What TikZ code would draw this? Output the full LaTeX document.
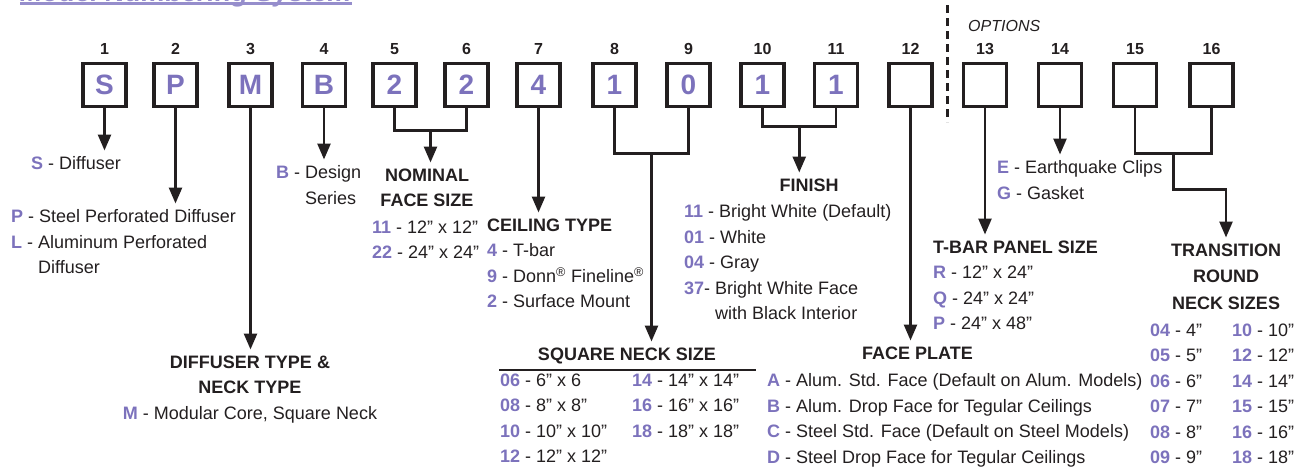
\documentclass[tikz,border=0pt]{standalone}
\usepackage{fontspec}
\setmainfont{Liberation Sans}
\usetikzlibrary{positioning, arrows.meta, calc}
\definecolor{CodePurple}{RGB}{124,114,188}
\definecolor{TitlePurple}{RGB}{150,142,204}
\definecolor{InkDark}{HTML}{231F20}
\newcommand{\pcode}[1]{{\color{CodePurple}\bfseries #1}}
\tikzset{
    digitbox/.style={rectangle, draw=InkDark, line width=3.5pt, minimum size=43pt, inner sep=0pt, font=\fontsize{28}{30}\selectfont\bfseries, text=CodePurple},
    poslbl/.style={font=\fontsize{16}{18}\selectfont\bfseries, text=InkDark, inner sep=0pt},
    conn/.style={line width=2.6pt, draw=InkDark},
    arr/.style={-{Triangle[length=16pt, width=13pt]}, line width=2.6pt, draw=InkDark},
    blk/.style={align=left, font=\fontsize{18}{25.5}\selectfont, text=InkDark, inner xsep=0pt, inner ysep=6pt},
    hdr/.style={align=center, font=\fontsize{18}{25.5}\selectfont\bfseries, text=InkDark, inner xsep=0pt, inner ysep=6pt}
}

\begin{document}
\begin{tikzpicture}[
        x=1pt, y=-1pt,
        titletext/.style={font=\fontsize{27}{30}\selectfont\bfseries\itshape, text=TitlePurple, inner sep=0pt},
        optlbl/.style={font=\fontsize{16}{18}\selectfont\itshape, text=InkDark, inner sep=0pt},
        optsep/.style={line width=3pt, draw=InkDark, dash pattern=on 8pt off 5pt},
        rule/.style={line width=1.5pt, draw=InkDark}
    ]
    \useasboundingbox (0,0) rectangle (1306,466);

    % --- TITLE (cut at the top) ---
    \node[titletext, anchor=base west] (title) at (20, 1) {Model Numbering System};
    \draw[TitlePurple, line width=2.5pt] ([yshift=-2.5pt]title.base west) -- ([yshift=-2.5pt]title.base east);

    % --- DIGIT BOXES ---
    \foreach \x/\d/\n in {104.5/S/1, 175.5/P/2, 250.5/M/3, 324/B/4, 394.5/2/5, 466.5/2/6, 538.5/4/7, 614.5/1/8, 688.5/0/9, 762.5/1/10, 836/1/11, 910.5/{}/12, 985/{}/13, 1060/{}/14, 1135/{}/15, 1211.5/{}/16} {
        \node[digitbox] (b\n) at (\x, 85) {\d};
        \node[poslbl, anchor=base] (p\n) at (\x, 54.7) {\n};
    }

    % --- OPTIONS SEPARATOR ---
    \draw[optsep] (947, 5) -- (947, 122);
    \node[optlbl, anchor=base west] (opts) at (968, 31.7) {OPTIONS};

    % --- DESCRIPTIONS ---
    \node[blk, anchor=north west] (sdesc) at (31, 150.5) {\pcode{S} - Diffuser};
    \node[blk, anchor=north west] (pdesc) at (11, 203.5) {\pcode{P} - Steel Perforated Diffuser\\ \pcode{L} - Aluminum Perforated\\ \phantom{\pcode{L} - }Diffuser};
    \node[hdr, anchor=north] (dtype) at (250, 349.5) {DIFFUSER TYPE \&\\NECK TYPE\\ \mdseries\pcode{M} - Modular Core, Square Neck};
    \node[blk, anchor=north west] (bdesc) at (276, 159.5) {\pcode{B} - Design\\ \phantom{\pcode{B} - }Series};
    \node[hdr, anchor=north] (nomhead) at (427, 162.5) {NOMINAL\\FACE SIZE};
    \node[blk, anchor=north west] (nomitems) at (372, 214.5) {\pcode{11} - 12” x 12”\\ \pcode{22} - 24” x 24”};
    \node[blk, anchor=north west] (ceiling) at (487, 212.5) {\textbf{CEILING TYPE}\\ \pcode{4} - T-bar\\ \pcode{9} - Donn\textsuperscript{®} Fineline\textsuperscript{®}\\ \pcode{2} - Surface Mount};
    \node[hdr, anchor=north] (sqhead) at (627, 341.5) {SQUARE NECK SIZE};
    \draw[rule] ([xshift=-128pt]sqhead.south) -- ([xshift=129pt]sqhead.south);
    \node[blk, anchor=north west] (sqcola) at (500, 367.5) {\pcode{06} - 6” x 6\\ \pcode{08} - 8” x 8”\\ \pcode{10} - 10” x 10”\\ \pcode{12} - 12” x 12”};
    \node[blk, anchor=north west] (sqcolb) at (632, 367.5) {\pcode{14} - 14” x 14”\\ \pcode{16} - 16” x 16”\\ \pcode{18} - 18” x 18”};
    \node[hdr, anchor=north] (finhead) at (809, 172.5) {FINISH};
    \node[blk, anchor=north west] (finitems) at (684, 198.5) {\pcode{11} - Bright White (Default)\\ \pcode{01} - White\\ \pcode{04} - Gray\\ \pcode{37}- Bright White Face\\ \phantom{\pcode{37}- }with Black Interior};
    \node[hdr, anchor=north west] (facehead) at (862, 340.5) {FACE PLATE};
    \node[blk, anchor=north west] (faceitems) at (767, 367.5) {\pcode{A} - Alum. Std. Face (Default on Alum. Models)\\ \pcode{B} - Alum. Drop Face for Tegular Ceilings\\ \pcode{C} - Steel Std. Face (Default on Steel Models)\\ \pcode{D} - Steel Drop Face for Tegular Ceilings};
    \node[blk, anchor=north west] (tbar) at (933, 234.5) {\textbf{T-BAR PANEL SIZE}\\ \pcode{R} - 12” x 24”\\ \pcode{Q} - 24” x 24”\\ \pcode{P} - 24” x 48”};
    \node[blk, anchor=north west] (edesc) at (997, 154.5) {\pcode{E} - Earthquake Clips\\ \pcode{G} - Gasket};
    \node[hdr, anchor=north, font=\fontsize{18}{26.5}\selectfont\bfseries] (transhead) at (1226, 237.5) {TRANSITION\\ROUND\\NECK SIZES};
    \node[blk, anchor=north west] (trcola) at (1150, 317.5) {\pcode{04} - 4”\\ \pcode{05} - 5”\\ \pcode{06} - 6”\\ \pcode{07} - 7”\\ \pcode{08} - 8”\\ \pcode{09} - 9”};
    \node[blk, anchor=north west] (trcolb) at (1232, 317.5) {\pcode{10} - 10”\\ \pcode{12} - 12”\\ \pcode{14} - 14”\\ \pcode{15} - 15”\\ \pcode{16} - 16”\\ \pcode{18} - 18”};

    % --- CONNECTORS ---
    \draw[arr] (b1.south) -- (b1.south |- sdesc.north);
    \draw[arr] (b2.south) -- (b2.south |- pdesc.north);
    \draw[arr] (b3.south) -- (b3.south |- dtype.north);
    \draw[arr] (b4.south) -- (b4.south |- bdesc.north);
    \coordinate (j56) at ($(b5.south)!0.5!(b6.south) + (0,22)$);
    \draw[conn] (b5.south) |- (j56) -| (b6.south);
    \draw[arr] (j56) -- (j56 |- nomhead.north);
    \draw[arr] (b7.south) -- (b7.south |- ceiling.north);
    \coordinate (j89) at ($(b8.south)!0.5!(b9.south) + (0,45)$);
    \draw[conn] (b8.south) |- (j89) -| (b9.south);
    \draw[arr] (j89) -- (j89 |- sqhead.north);
    \coordinate (j1011) at ($(b10.south)!0.5!(b11.south) + (0,18)$);
    \draw[conn] (b10.south) |- (j1011) -| (b11.south);
    \draw[arr] (j1011) -- (j1011 |- finhead.north);
    \draw[arr] (b12.south) -- (b12.south |- facehead.north);
    \draw[arr] (b13.south) -- (b13.south |- tbar.north);
    \draw[arr] (b14.south) -- (b14.south |- edesc.north);
    \coordinate (j1516) at ($(b15.south)!0.5!(b16.south) + (0,45)$);
    \draw[conn] (b15.south) |- (j1516) -| (b16.south);
    \draw[arr] (j1516) -- ++(0,36) -| (transhead.north);

\end{tikzpicture}
\end{document}
